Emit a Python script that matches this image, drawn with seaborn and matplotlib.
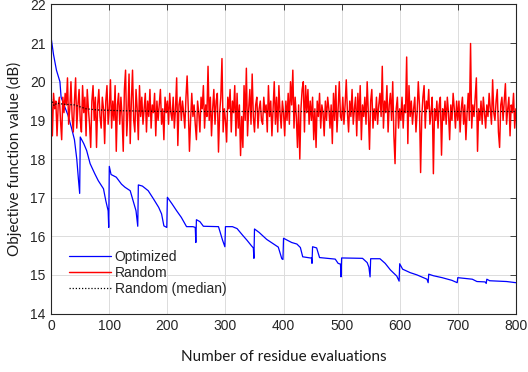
import matplotlib
matplotlib.use("Agg")
import matplotlib.pyplot as plt
import seaborn as sns
import numpy as np
import pandas as pd

# random search: objective value every 2nd evaluation
rand_step = 2
rand_vals = [
    19.6, 18.6, 19.7, 19.3, 19.5, 18.6, 19.4, 19.6, 19.0, 18.5, 19.6, 19.2, 19.7, 19.4, 20.1, 18.9, 19.3, 20.0, 19.1, 18.7,
    19.5, 20.1, 18.8, 19.4, 19.8, 19.0, 18.7, 19.9, 19.2, 19.6, 18.6, 19.8, 19.3, 18.9, 18.3, 19.5, 19.9, 19.0, 19.6, 18.3,
    19.4, 19.8, 19.1, 18.8, 19.6, 19.3, 18.4, 19.5, 19.9, 18.9,
    19.3, 20.05, 18.8, 19.5, 19.0, 19.9, 18.2, 19.4, 19.7, 18.9, 19.6, 19.1, 18.2, 19.8, 20.3, 18.6, 19.2, 20.2, 18.4, 19.5,
    20.3, 19.0, 18.7, 19.8, 19.3, 18.5, 19.9, 19.1, 19.6, 18.9, 19.3, 19.7, 18.7, 19.5, 19.1, 19.8, 18.8, 19.4, 19.2, 19.7,
    18.6, 19.5, 19.0, 19.4, 19.8, 18.9, 19.3, 18.5, 19.6, 19.2,
    19.5, 18.9, 19.7, 19.2, 19.0, 19.6, 18.8, 19.3, 20.1, 18.35, 19.4, 19.6, 19.0, 19.5, 19.2, 18.8, 19.6, 20.15, 19.3, 18.2,
    19.0, 19.7, 19.1, 19.4, 18.9, 18.5, 19.5, 19.2, 18.7, 19.6, 19.3, 19.9, 18.8, 19.4, 19.1, 20.4, 19.0, 19.6, 18.6, 19.3,
    19.8, 18.9, 19.5, 19.7, 18.18, 19.2, 19.6, 20.6, 18.7, 19.3,
    19.0, 18.44, 19.6, 19.3, 19.8, 18.7, 19.5, 19.2, 19.9, 18.6, 19.7, 18.8, 19.4, 18.09, 19.1, 18.3, 19.9, 19.0, 20.35, 18.6,
    19.3, 19.8, 18.9, 20.2, 19.1, 18.7, 19.4, 19.6, 18.8, 19.3, 19.5, 19.0, 18.9, 19.6, 19.2, 19.4, 18.7, 19.9, 19.1, 19.5,
    18.6, 19.3, 20.0, 18.9, 19.6, 18.7, 19.9, 19.2, 18.8, 19.5,
    19.2, 18.6, 19.5, 19.0, 19.7, 18.9, 20.0, 19.4, 20.3, 18.8, 19.6, 19.1, 18.3, 19.4, 18.0, 19.3, 19.8, 20.0, 18.7, 19.9,
    19.2, 19.8, 18.9, 19.5, 19.0, 19.6, 18.5, 19.3, 18.3, 19.5, 19.1, 19.7, 18.8, 19.4, 19.2, 18.6, 19.5, 19.0, 19.6, 19.3,
    18.8, 19.4, 18.4, 19.7, 19.0, 19.9, 18.7, 19.3, 20.0, 19.1,
    19.0, 19.6, 18.9, 19.4, 20.05, 19.2, 18.7, 19.5, 19.1, 19.8, 18.9, 19.3, 19.6, 18.6, 19.7, 19.0, 19.9, 18.5, 19.4, 19.1,
    19.6, 18.9, 20.0, 19.2, 18.25, 19.5, 19.8, 18.8, 19.3, 19.0, 19.6, 18.9, 19.4, 19.7, 19.1, 20.4, 18.8, 19.5, 19.2, 19.9,
    18.7, 19.4, 19.7, 19.0, 20.0, 18.6, 17.88, 19.3, 19.6, 18.8,
    19.3, 19.0, 19.6, 18.8, 19.4, 19.2, 20.64, 18.4, 19.9, 19.1, 19.5, 18.9, 19.3, 19.6, 18.7, 19.2, 20.0, 19.4, 17.65, 19.1,
    19.6, 19.9, 18.8, 19.5, 19.3, 19.8, 18.9, 19.2, 19.6, 17.62, 19.3, 19.0, 19.5, 18.8, 19.4, 19.6, 18.1, 19.3, 19.0, 19.5,
    18.9, 19.6, 19.2, 18.5, 19.4, 19.0, 19.7, 19.3, 18.8, 19.5,
    19.0, 19.5, 18.7, 19.3, 19.6, 18.9, 19.4, 18.5, 19.2, 19.7, 19.0, 20.99, 18.8, 19.4, 19.1, 19.6, 20.1, 18.2, 19.3, 19.0,
    19.5, 18.9, 19.6, 19.2, 18.8, 19.4, 19.1, 19.7, 19.3, 18.9, 20.05, 19.2, 19.0, 19.5, 19.8, 18.7, 18.3, 19.4, 19.6, 19.0,
    19.5, 19.95, 18.9, 19.3, 19.6, 18.6, 19.4, 19.2, 19.7, 18.8, 19.3,
]

# optimized run (vertices of the curve)
opt_x = [0, 4, 9, 15, 17, 22, 29, 35, 40, 44, 47, 49, 50, 56, 61, 67, 75, 81, 90, 94, 98, 99,
         100, 103, 112, 121, 127, 136, 141, 146, 149, 150, 157, 167, 176, 185, 190, 194, 199,
         200, 208, 216, 224, 233, 244, 248, 249, 250, 256, 262, 288, 295, 299, 300, 312, 320, 330,
         337, 345, 348, 349, 350, 358, 371, 383, 391, 397, 399, 400, 414, 423, 429, 433, 446, 448,
         449, 450, 457, 462, 489, 494, 498, 499, 500, 536, 544, 547, 549, 550, 566, 575, 584, 595,
         599, 600, 605, 618, 630, 647, 649, 650, 658, 673, 690, 699, 700, 725, 733, 747, 749, 750,
         755, 784, 800]
opt_y = [21.12, 20.7, 20.3, 20.0, 19.6, 19.4, 19.13, 18.8, 18.5, 18.0, 17.45, 17.11, 18.57, 18.4,
         18.22, 17.88, 17.62, 17.44, 17.23, 16.92, 16.66, 16.23,
         17.81, 17.6, 17.53, 17.35, 17.27, 17.18, 16.92, 16.66, 16.26, 17.33, 17.3, 17.18, 16.97,
         16.75, 16.58, 16.27, 16.23,
         17.01, 16.84, 16.66, 16.49, 16.25, 16.25, 16.23, 15.84, 16.43, 16.38, 16.26, 16.25, 15.9,
         15.73, 16.25, 16.25, 16.2, 16.02,
         15.9, 15.75, 15.7, 15.43, 16.19, 16.1, 15.92, 15.8, 15.72, 15.42, 15.4, 15.95, 15.84, 15.8,
         15.71, 15.47, 15.44, 15.44,
         15.3, 15.73, 15.7, 15.45, 15.41, 15.3, 15.28, 14.95, 15.44, 15.43, 15.32, 15.2, 14.95, 15.42,
         15.42, 15.3, 15.13, 14.97,
         14.84, 15.29, 15.15, 15.06, 15.0, 14.89, 14.8, 15.02, 14.98, 14.93, 14.86, 14.8, 14.93,
         14.89, 14.83, 14.82, 14.78, 14.89,
         14.85, 14.83, 14.8]

# running median of the random search
med_x = [0, 5, 10, 20, 40, 60, 80, 120, 200, 400, 800]
med_y = [19.56, 19.38, 19.45, 19.42, 19.4, 19.3, 19.27, 19.25, 19.23, 19.23, 19.23]

rand_x = np.arange(len(rand_vals)) * rand_step
df_rand = pd.DataFrame({"x": rand_x, "y": rand_vals})
df_opt = pd.DataFrame({"x": opt_x, "y": opt_y})
df_med = pd.DataFrame({"x": med_x, "y": med_y})

sns.set_theme(style="white")
plt.rcParams["font.family"] = ["Liberation Sans", "DejaVu Sans"]

fig = plt.figure(figsize=(5.28, 3.72), dpi=100)
ax = fig.add_axes([0.097, 0.157, 0.88, 0.831])

sns.lineplot(data=df_opt, x="x", y="y", ax=ax, color=(0, 0, 1), lw=0.9, label="Optimized")
sns.lineplot(data=df_rand, x="x", y="y", ax=ax, color=(1, 0, 0), lw=1.05, label="Random")
sns.lineplot(data=df_med, x="x", y="y", ax=ax, color="black", lw=0.9, ls=(0, (1, 1.5)),
             label="Random (median)")

ax.set_xlim(0, 800)
ax.set_ylim(14, 22)
ax.set_xticks(range(0, 801, 100))
ax.set_yticks(range(14, 23))
ax.grid(True, color="#dcdcdc", lw=0.7)
ax.set_axisbelow(True)
for s in ax.spines.values():
    s.set_color("#262626")
    s.set_linewidth(0.8)
ax.tick_params(direction="in", length=4, width=0.6, top=True, right=True,
               labelsize=10, colors="#262626", pad=4)

ax.set_xlabel("Number of residue evaluations", fontsize=11, family=["Lato", "DejaVu Sans"],
              labelpad=12, color="#1a1a1a")
ax.set_ylabel("Objective function value (dB)", fontsize=11, family=["Lato", "DejaVu Sans"],
              labelpad=6, color="#1a1a1a")

leg = ax.legend(loc="lower left", bbox_to_anchor=(0.02, 0.03), frameon=False, fontsize=10,
                handlelength=3.0, handletextpad=0.3, labelspacing=0.15, borderaxespad=0.2)

fig.savefig("out.png", dpi=100)
